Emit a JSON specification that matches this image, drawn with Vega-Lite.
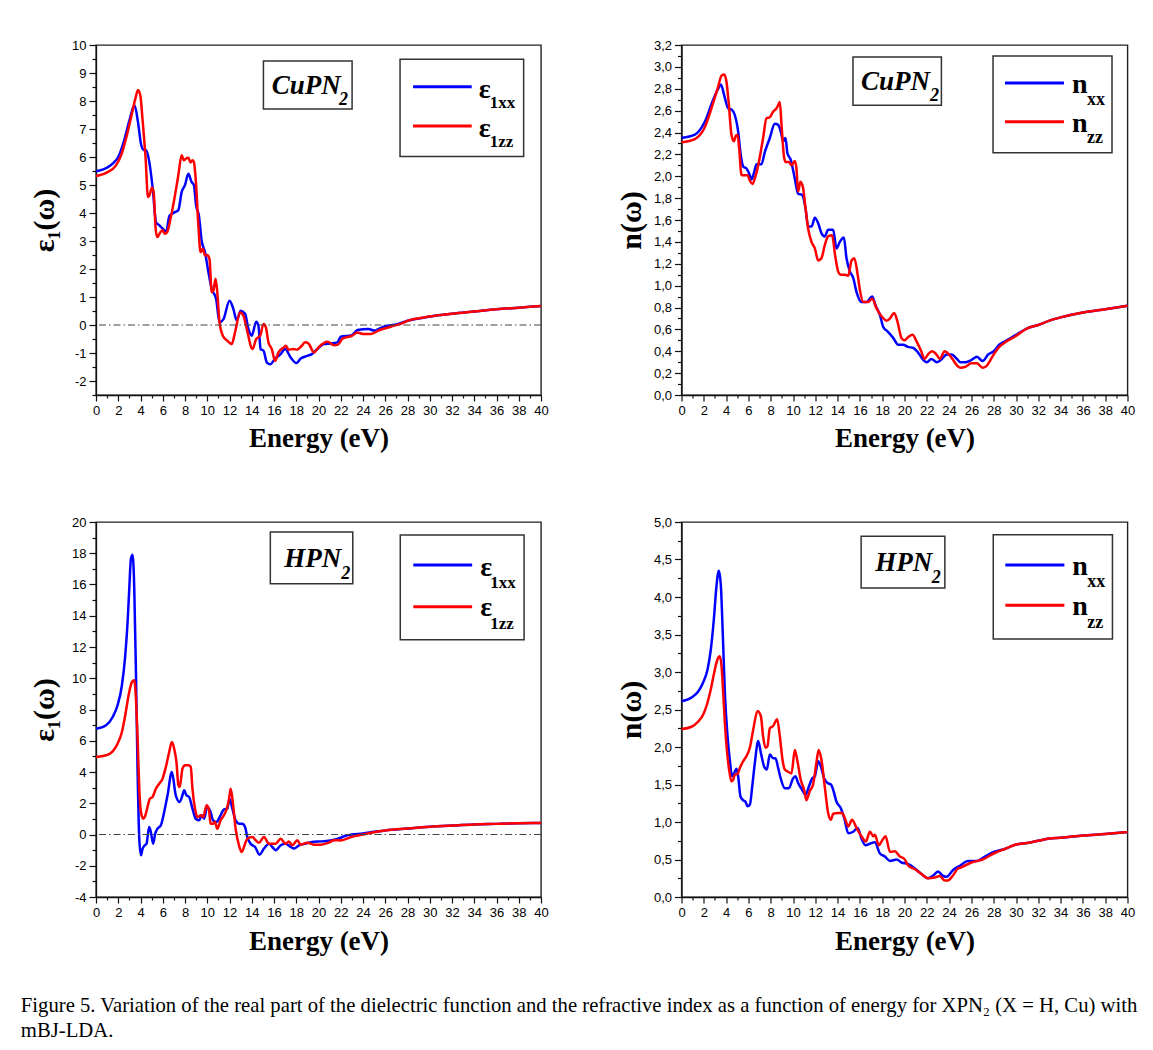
{
"$schema": "https://vega.github.io/schema/vega-lite/v6.json",
"background": "white",
"padding": {"left": 20, "top": 38, "right": 10, "bottom": 10},
"config": {
  "view": {"stroke": "#222", "strokeWidth": 1.4},
  "axis": {"grid": false, "labelFont": "Liberation Sans", "labelFontSize": 13, "labelColor": "black", "tickColor": "#111", "domainColor": "#111", "domainWidth": 1.3, "tickWidth": 1.2, "titleFont": "Liberation Serif", "titleFontWeight": "bold", "titleFontSize": 27, "titleColor": "black", "labelOverlap": false, "labelFlush": false, "labelPadding": 3}
},
"datasets": {
  "p1xx": [{"E":0,"v":5.49},{"E":1,"v":5.62},{"E":1.6,"v":5.8},{"E":2,"v":6.0},{"E":2.5,"v":6.55},{"E":3,"v":7.3},{"E":3.46,"v":7.85},{"E":3.77,"v":7.26},{"E":4.07,"v":6.42},{"E":4.3,"v":6.25},{"E":4.5,"v":6.24},{"E":4.8,"v":5.8},{"E":5.1,"v":4.87},{"E":5.4,"v":3.67},{"E":5.7,"v":3.56},{"E":6.0,"v":3.44},{"E":6.3,"v":3.32},{"E":6.6,"v":3.9},{"E":7.1,"v":4.03},{"E":7.4,"v":4.1},{"E":7.7,"v":4.75},{"E":8.0,"v":5.0},{"E":8.3,"v":5.4},{"E":8.6,"v":5.1},{"E":8.8,"v":5.0},{"E":9.0,"v":4.27},{"E":9.25,"v":3.9},{"E":9.5,"v":3.0},{"E":9.8,"v":2.6},{"E":10.1,"v":1.9},{"E":10.4,"v":1.3},{"E":10.8,"v":0.93},{"E":11.1,"v":0.1},{"E":11.45,"v":0.2},{"E":12.0,"v":0.87},{"E":12.35,"v":0.57},{"E":12.65,"v":0.16},{"E":13.0,"v":0.51},{"E":13.4,"v":0.4},{"E":13.7,"v":-0.14},{"E":14.0,"v":-0.38},{"E":14.4,"v":0.12},{"E":14.6,"v":-0.02},{"E":14.8,"v":-0.86},{"E":15.06,"v":-0.92},{"E":15.36,"v":-1.34},{"E":15.66,"v":-1.4},{"E":16.1,"v":-1.2},{"E":16.6,"v":-1.04},{"E":17.0,"v":-0.86},{"E":17.5,"v":-1.16},{"E":18.0,"v":-1.36},{"E":18.4,"v":-1.2},{"E":19.0,"v":-1.1},{"E":19.4,"v":-1.04},{"E":19.9,"v":-0.86},{"E":20.5,"v":-0.68},{"E":21.1,"v":-0.66},{"E":21.7,"v":-0.62},{"E":22,"v":-0.42},{"E":23,"v":-0.36},{"E":23.5,"v":-0.18},{"E":24.5,"v":-0.14},{"E":25,"v":-0.2},{"E":25.5,"v":-0.12},{"E":26,"v":-0.04},{"E":27,"v":0.02},{"E":28,"v":0.15},{"E":30,"v":0.3},{"E":32,"v":0.4},{"E":34,"v":0.48},{"E":36,"v":0.56},{"E":38,"v":0.62},{"E":40,"v":0.68}],
  "p1zz": [{"E":0,"v":5.32},{"E":1,"v":5.45},{"E":1.8,"v":5.7},{"E":2.3,"v":6.1},{"E":2.7,"v":6.66},{"E":3.16,"v":7.43},{"E":3.55,"v":8.1},{"E":3.77,"v":8.39},{"E":3.98,"v":8.21},{"E":4.2,"v":7.26},{"E":4.46,"v":5.94},{"E":4.67,"v":4.57},{"E":4.8,"v":4.63},{"E":5.03,"v":4.9},{"E":5.18,"v":4.75},{"E":5.36,"v":3.44},{"E":5.5,"v":3.14},{"E":5.8,"v":3.32},{"E":5.96,"v":3.38},{"E":6.2,"v":3.26},{"E":6.4,"v":3.32},{"E":6.7,"v":3.8},{"E":7.1,"v":4.63},{"E":7.4,"v":5.35},{"E":7.7,"v":6.06},{"E":7.9,"v":5.88},{"E":8.07,"v":5.94},{"E":8.3,"v":5.97},{"E":8.5,"v":5.8},{"E":8.67,"v":5.88},{"E":8.8,"v":5.82},{"E":9.0,"v":4.99},{"E":9.2,"v":3.56},{"E":9.4,"v":2.6},{"E":9.6,"v":2.72},{"E":9.8,"v":2.48},{"E":10.0,"v":2.5},{"E":10.2,"v":2.36},{"E":10.4,"v":1.17},{"E":10.55,"v":1.23},{"E":10.75,"v":1.65},{"E":10.9,"v":1.17},{"E":11.1,"v":0.1},{"E":11.4,"v":-0.38},{"E":11.8,"v":-0.56},{"E":12.2,"v":-0.68},{"E":12.5,"v":-0.26},{"E":12.95,"v":0.45},{"E":13.25,"v":0.33},{"E":13.55,"v":-0.14},{"E":14.07,"v":-0.86},{"E":14.4,"v":-0.5},{"E":14.76,"v":-0.38},{"E":15.06,"v":0.04},{"E":15.27,"v":-0.08},{"E":15.5,"v":-0.62},{"E":15.8,"v":-0.86},{"E":16.1,"v":-1.28},{"E":16.4,"v":-0.98},{"E":16.87,"v":-0.8},{"E":17.08,"v":-0.74},{"E":17.3,"v":-0.88},{"E":17.77,"v":-0.86},{"E":18.07,"v":-0.88},{"E":18.5,"v":-0.74},{"E":18.8,"v":-0.62},{"E":19.1,"v":-0.66},{"E":19.6,"v":-0.98},{"E":20.0,"v":-0.8},{"E":20.8,"v":-0.6},{"E":21.4,"v":-0.72},{"E":21.7,"v":-0.71},{"E":22.2,"v":-0.48},{"E":23,"v":-0.39},{"E":23.5,"v":-0.27},{"E":24,"v":-0.32},{"E":24.7,"v":-0.32},{"E":25.5,"v":-0.18},{"E":26.5,"v":-0.06},{"E":27.5,"v":0.06},{"E":28,"v":0.15},{"E":30,"v":0.3},{"E":32,"v":0.4},{"E":34,"v":0.48},{"E":36,"v":0.56},{"E":38,"v":0.62},{"E":40,"v":0.68}],
  "p2xx": [{"E":0,"v":2.35},{"E":1.2,"v":2.38},{"E":2.1,"v":2.5},{"E":2.84,"v":2.7},{"E":3.29,"v":2.8},{"E":3.53,"v":2.84},{"E":3.83,"v":2.74},{"E":4.19,"v":2.62},{"E":4.48,"v":2.61},{"E":4.78,"v":2.56},{"E":5.08,"v":2.41},{"E":5.32,"v":2.19},{"E":5.53,"v":2.09},{"E":5.83,"v":2.07},{"E":6.13,"v":2.01},{"E":6.28,"v":1.97},{"E":6.52,"v":2.04},{"E":6.73,"v":2.11},{"E":7.17,"v":2.11},{"E":7.47,"v":2.22},{"E":7.92,"v":2.35},{"E":8.37,"v":2.48},{"E":8.67,"v":2.47},{"E":8.9,"v":2.41},{"E":9.12,"v":2.32},{"E":9.33,"v":2.35},{"E":9.5,"v":2.21},{"E":9.8,"v":2.15},{"E":10.16,"v":1.98},{"E":10.46,"v":1.84},{"E":10.82,"v":1.83},{"E":11.12,"v":1.71},{"E":11.36,"v":1.54},{"E":11.66,"v":1.54},{"E":11.96,"v":1.62},{"E":12.26,"v":1.57},{"E":12.55,"v":1.48},{"E":12.85,"v":1.45},{"E":13.15,"v":1.51},{"E":13.6,"v":1.51},{"E":13.9,"v":1.34},{"E":14.2,"v":1.4},{"E":14.56,"v":1.44},{"E":14.8,"v":1.25},{"E":15.1,"v":1.13},{"E":15.4,"v":1.07},{"E":15.7,"v":0.94},{"E":16.14,"v":0.85},{"E":16.6,"v":0.85},{"E":17.1,"v":0.9},{"E":17.4,"v":0.82},{"E":17.8,"v":0.73},{"E":18.1,"v":0.62},{"E":18.5,"v":0.58},{"E":19.0,"v":0.52},{"E":19.43,"v":0.46},{"E":19.88,"v":0.46},{"E":20.3,"v":0.44},{"E":20.8,"v":0.43},{"E":21.2,"v":0.39},{"E":21.7,"v":0.32},{"E":22.0,"v":0.3},{"E":22.4,"v":0.33},{"E":22.9,"v":0.3},{"E":23.25,"v":0.32},{"E":23.8,"v":0.37},{"E":24.2,"v":0.37},{"E":24.7,"v":0.33},{"E":25.0,"v":0.3},{"E":25.5,"v":0.3},{"E":26,"v":0.32},{"E":26.5,"v":0.35},{"E":27,"v":0.31},{"E":27.5,"v":0.37},{"E":28,"v":0.4},{"E":28.5,"v":0.46},{"E":29,"v":0.49},{"E":30,"v":0.55},{"E":31,"v":0.61},{"E":32,"v":0.64},{"E":33,"v":0.68},{"E":34,"v":0.71},{"E":36,"v":0.755},{"E":38,"v":0.785},{"E":40,"v":0.815}],
  "p2zz": [{"E":0,"v":2.31},{"E":1.2,"v":2.34},{"E":2.1,"v":2.45},{"E":2.84,"v":2.67},{"E":3.29,"v":2.82},{"E":3.59,"v":2.92},{"E":3.83,"v":2.93},{"E":4.04,"v":2.86},{"E":4.25,"v":2.65},{"E":4.48,"v":2.38},{"E":4.7,"v":2.32},{"E":4.87,"v":2.37},{"E":5.02,"v":2.38},{"E":5.17,"v":2.26},{"E":5.38,"v":2.01},{"E":5.68,"v":2.01},{"E":5.92,"v":2.01},{"E":6.13,"v":1.96},{"E":6.37,"v":1.93},{"E":6.58,"v":1.98},{"E":6.88,"v":2.1},{"E":7.32,"v":2.35},{"E":7.62,"v":2.53},{"E":7.92,"v":2.54},{"E":8.22,"v":2.59},{"E":8.52,"v":2.62},{"E":8.67,"v":2.65},{"E":8.82,"v":2.68},{"E":8.97,"v":2.47},{"E":9.18,"v":2.19},{"E":9.33,"v":2.13},{"E":9.63,"v":2.13},{"E":9.87,"v":2.1},{"E":10.16,"v":2.14},{"E":10.31,"v":2.07},{"E":10.46,"v":1.86},{"E":10.67,"v":1.95},{"E":10.91,"v":1.89},{"E":11.12,"v":1.71},{"E":11.36,"v":1.52},{"E":11.66,"v":1.4},{"E":11.96,"v":1.34},{"E":12.26,"v":1.23},{"E":12.55,"v":1.25},{"E":12.85,"v":1.37},{"E":13.15,"v":1.45},{"E":13.5,"v":1.46},{"E":13.8,"v":1.26},{"E":14.05,"v":1.13},{"E":14.3,"v":1.1},{"E":14.65,"v":1.1},{"E":14.95,"v":1.09},{"E":15.25,"v":1.23},{"E":15.5,"v":1.25},{"E":15.8,"v":1.1},{"E":16.0,"v":0.96},{"E":16.3,"v":0.85},{"E":16.74,"v":0.85},{"E":17.1,"v":0.88},{"E":17.5,"v":0.79},{"E":17.94,"v":0.72},{"E":18.4,"v":0.68},{"E":18.7,"v":0.7},{"E":19.07,"v":0.75},{"E":19.37,"v":0.67},{"E":19.73,"v":0.52},{"E":20.0,"v":0.5},{"E":20.33,"v":0.53},{"E":20.72,"v":0.55},{"E":21.08,"v":0.49},{"E":21.5,"v":0.4},{"E":21.8,"v":0.33},{"E":22.1,"v":0.37},{"E":22.48,"v":0.4},{"E":22.87,"v":0.37},{"E":23.17,"v":0.33},{"E":23.6,"v":0.4},{"E":23.9,"v":0.38},{"E":24.36,"v":0.32},{"E":24.8,"v":0.26},{"E":25.0,"v":0.25},{"E":25.5,"v":0.26},{"E":26,"v":0.29},{"E":26.5,"v":0.29},{"E":27,"v":0.25},{"E":27.3,"v":0.26},{"E":28,"v":0.37},{"E":28.5,"v":0.44},{"E":29,"v":0.48},{"E":30,"v":0.54},{"E":31,"v":0.61},{"E":32,"v":0.64},{"E":33,"v":0.68},{"E":34,"v":0.71},{"E":36,"v":0.755},{"E":38,"v":0.785},{"E":40,"v":0.815}],
  "p3xx": [{"E":0,"v":6.77},{"E":0.9,"v":6.99},{"E":1.5,"v":7.52},{"E":1.94,"v":8.27},{"E":2.33,"v":9.55},{"E":2.63,"v":11.47},{"E":2.84,"v":13.6},{"E":2.99,"v":15.73},{"E":3.14,"v":17.65},{"E":3.29,"v":17.9},{"E":3.44,"v":15.73},{"E":3.59,"v":10.4},{"E":3.74,"v":4.0},{"E":3.89,"v":-0.27},{"E":4.04,"v":-1.33},{"E":4.19,"v":-0.9},{"E":4.4,"v":-0.69},{"E":4.54,"v":-0.59},{"E":4.78,"v":0.48},{"E":4.93,"v":0.16},{"E":5.14,"v":-0.59},{"E":5.32,"v":0.05},{"E":5.53,"v":0.37},{"E":5.83,"v":0.59},{"E":6.13,"v":1.44},{"E":6.43,"v":2.51},{"E":6.82,"v":4.0},{"E":7.17,"v":2.51},{"E":7.53,"v":2.08},{"E":7.77,"v":2.51},{"E":7.92,"v":2.83},{"E":8.13,"v":2.51},{"E":8.37,"v":2.4},{"E":8.67,"v":1.65},{"E":8.97,"v":1.01},{"E":9.27,"v":0.91},{"E":9.5,"v":1.23},{"E":9.72,"v":1.01},{"E":10.0,"v":1.76},{"E":10.3,"v":1.44},{"E":10.52,"v":0.91},{"E":10.82,"v":0.8},{"E":11.2,"v":1.23},{"E":11.5,"v":1.61},{"E":11.8,"v":1.65},{"E":12.0,"v":2.29},{"E":12.26,"v":1.65},{"E":12.55,"v":0.91},{"E":12.9,"v":0.69},{"E":13.15,"v":0.69},{"E":13.4,"v":0.48},{"E":13.6,"v":-0.16},{"E":13.9,"v":-0.59},{"E":14.3,"v":-0.8},{"E":14.7,"v":-1.29},{"E":15.1,"v":-0.9},{"E":15.55,"v":-0.59},{"E":15.85,"v":-0.8},{"E":16.14,"v":-1.01},{"E":16.6,"v":-0.69},{"E":17.04,"v":-0.59},{"E":17.5,"v":-0.8},{"E":17.8,"v":-0.9},{"E":18.24,"v":-0.69},{"E":18.8,"v":-0.59},{"E":19.4,"v":-0.48},{"E":20.3,"v":-0.44},{"E":21.2,"v":-0.37},{"E":22,"v":-0.21},{"E":22.5,"v":-0.06},{"E":23,"v":0.0},{"E":24,"v":0.06},{"E":25,"v":0.17},{"E":26,"v":0.26},{"E":28,"v":0.38},{"E":30,"v":0.49},{"E":32,"v":0.57},{"E":34,"v":0.64},{"E":36,"v":0.68},{"E":38,"v":0.72},{"E":40,"v":0.74}],
  "p3zz": [{"E":0,"v":4.96},{"E":0.9,"v":5.07},{"E":1.5,"v":5.32},{"E":1.94,"v":5.81},{"E":2.33,"v":6.56},{"E":2.63,"v":7.63},{"E":2.93,"v":8.91},{"E":3.23,"v":9.76},{"E":3.44,"v":9.87},{"E":3.59,"v":8.69},{"E":3.74,"v":6.13},{"E":3.89,"v":2.93},{"E":4.04,"v":1.44},{"E":4.25,"v":1.01},{"E":4.42,"v":1.18},{"E":4.63,"v":1.76},{"E":4.84,"v":2.29},{"E":5.08,"v":2.4},{"E":5.38,"v":2.93},{"E":5.68,"v":3.25},{"E":5.98,"v":3.57},{"E":6.28,"v":4.32},{"E":6.58,"v":5.28},{"E":6.82,"v":5.92},{"E":7.03,"v":5.49},{"E":7.23,"v":4.64},{"E":7.41,"v":3.15},{"E":7.53,"v":3.04},{"E":7.77,"v":4.21},{"E":8.01,"v":4.43},{"E":8.31,"v":4.43},{"E":8.52,"v":4.32},{"E":8.67,"v":2.93},{"E":8.9,"v":1.65},{"E":9.12,"v":1.12},{"E":9.42,"v":1.23},{"E":9.63,"v":1.12},{"E":9.95,"v":1.87},{"E":10.16,"v":1.55},{"E":10.3,"v":0.69},{"E":10.52,"v":0.69},{"E":10.7,"v":0.8},{"E":10.9,"v":0.37},{"E":11.2,"v":0.91},{"E":11.5,"v":1.23},{"E":11.8,"v":1.76},{"E":11.96,"v":2.29},{"E":12.1,"v":2.93},{"E":12.26,"v":2.29},{"E":12.55,"v":0.37},{"E":12.85,"v":-0.69},{"E":13.1,"v":-1.12},{"E":13.4,"v":-0.59},{"E":13.6,"v":-0.27},{"E":14.05,"v":-0.16},{"E":14.35,"v":-0.37},{"E":14.65,"v":-0.52},{"E":15.1,"v":-0.16},{"E":15.55,"v":-0.59},{"E":16.14,"v":-0.59},{"E":16.6,"v":-0.27},{"E":17.04,"v":-0.59},{"E":17.34,"v":-0.44},{"E":17.64,"v":-0.69},{"E":18.1,"v":-0.37},{"E":18.4,"v":-0.65},{"E":19.0,"v":-0.52},{"E":19.6,"v":-0.65},{"E":20.2,"v":-0.65},{"E":20.93,"v":-0.52},{"E":21.4,"v":-0.37},{"E":22,"v":-0.38},{"E":23,"v":-0.15},{"E":24,"v":0.0},{"E":25,"v":0.15},{"E":26,"v":0.26},{"E":28,"v":0.38},{"E":30,"v":0.49},{"E":32,"v":0.57},{"E":34,"v":0.64},{"E":36,"v":0.68},{"E":38,"v":0.72},{"E":40,"v":0.74}],
  "p4xx": [{"E":0,"v":2.61},{"E":0.9,"v":2.66},{"E":1.5,"v":2.74},{"E":1.94,"v":2.86},{"E":2.33,"v":3.03},{"E":2.63,"v":3.3},{"E":2.9,"v":3.7},{"E":3.14,"v":4.15},{"E":3.35,"v":4.35},{"E":3.53,"v":4.15},{"E":3.71,"v":3.48},{"E":3.89,"v":2.72},{"E":4.13,"v":2.14},{"E":4.33,"v":1.83},{"E":4.54,"v":1.61},{"E":4.78,"v":1.67},{"E":4.93,"v":1.71},{"E":5.08,"v":1.61},{"E":5.29,"v":1.34},{"E":5.53,"v":1.29},{"E":5.74,"v":1.27},{"E":5.92,"v":1.21},{"E":6.13,"v":1.23},{"E":6.34,"v":1.47},{"E":6.58,"v":1.79},{"E":6.88,"v":2.08},{"E":7.12,"v":1.92},{"E":7.41,"v":1.74},{"E":7.65,"v":1.7},{"E":7.92,"v":1.9},{"E":8.22,"v":1.85},{"E":8.43,"v":1.85},{"E":8.67,"v":1.72},{"E":8.9,"v":1.58},{"E":9.27,"v":1.45},{"E":9.63,"v":1.45},{"E":10.0,"v":1.58},{"E":10.22,"v":1.61},{"E":10.46,"v":1.52},{"E":10.82,"v":1.43},{"E":11.12,"v":1.36},{"E":11.42,"v":1.47},{"E":11.72,"v":1.58},{"E":11.96,"v":1.61},{"E":12.26,"v":1.81},{"E":12.5,"v":1.74},{"E":12.8,"v":1.58},{"E":13.1,"v":1.52},{"E":13.4,"v":1.5},{"E":13.6,"v":1.43},{"E":13.9,"v":1.27},{"E":14.3,"v":1.18},{"E":14.6,"v":1.05},{"E":14.95,"v":0.85},{"E":15.4,"v":0.87},{"E":15.8,"v":0.92},{"E":16.14,"v":0.78},{"E":16.5,"v":0.69},{"E":16.9,"v":0.71},{"E":17.34,"v":0.73},{"E":17.8,"v":0.58},{"E":18.24,"v":0.54},{"E":18.7,"v":0.48},{"E":19.3,"v":0.5},{"E":19.73,"v":0.46},{"E":20.3,"v":0.44},{"E":20.93,"v":0.38},{"E":21.5,"v":0.31},{"E":22.1,"v":0.25},{"E":22.6,"v":0.29},{"E":23.0,"v":0.34},{"E":23.47,"v":0.28},{"E":23.77,"v":0.27},{"E":24.36,"v":0.36},{"E":25.0,"v":0.42},{"E":25.7,"v":0.48},{"E":26.5,"v":0.48},{"E":27,"v":0.52},{"E":28,"v":0.6},{"E":29,"v":0.64},{"E":30,"v":0.7},{"E":31,"v":0.72},{"E":32,"v":0.75},{"E":33,"v":0.78},{"E":34,"v":0.79},{"E":36,"v":0.82},{"E":38,"v":0.84},{"E":40,"v":0.865}],
  "p4zz": [{"E":0,"v":2.24},{"E":0.9,"v":2.27},{"E":1.5,"v":2.34},{"E":1.94,"v":2.43},{"E":2.33,"v":2.59},{"E":2.63,"v":2.77},{"E":2.93,"v":2.99},{"E":3.23,"v":3.17},{"E":3.44,"v":3.21},{"E":3.59,"v":3.08},{"E":3.74,"v":2.72},{"E":3.89,"v":2.32},{"E":4.04,"v":2.01},{"E":4.25,"v":1.72},{"E":4.48,"v":1.54},{"E":4.63,"v":1.56},{"E":4.78,"v":1.63},{"E":5.02,"v":1.64},{"E":5.23,"v":1.72},{"E":5.53,"v":1.81},{"E":5.83,"v":1.88},{"E":6.13,"v":1.99},{"E":6.43,"v":2.23},{"E":6.82,"v":2.48},{"E":7.12,"v":2.41},{"E":7.32,"v":2.14},{"E":7.53,"v":1.99},{"E":7.71,"v":2.01},{"E":7.92,"v":2.25},{"E":8.22,"v":2.28},{"E":8.58,"v":2.37},{"E":8.82,"v":2.14},{"E":9.06,"v":1.83},{"E":9.27,"v":1.7},{"E":9.57,"v":1.67},{"E":9.87,"v":1.65},{"E":10.16,"v":1.96},{"E":10.4,"v":1.81},{"E":10.7,"v":1.56},{"E":11.0,"v":1.43},{"E":11.2,"v":1.29},{"E":11.5,"v":1.41},{"E":11.8,"v":1.5},{"E":12.1,"v":1.79},{"E":12.3,"v":1.96},{"E":12.55,"v":1.83},{"E":12.85,"v":1.47},{"E":13.15,"v":1.12},{"E":13.4,"v":1.03},{"E":13.6,"v":1.11},{"E":14.05,"v":1.12},{"E":14.4,"v":1.12},{"E":14.7,"v":1.03},{"E":14.95,"v":0.94},{"E":15.3,"v":1.03},{"E":15.7,"v":0.92},{"E":16.14,"v":0.81},{"E":16.53,"v":0.74},{"E":16.9,"v":0.87},{"E":17.2,"v":0.81},{"E":17.34,"v":0.83},{"E":17.7,"v":0.69},{"E":17.94,"v":0.74},{"E":18.3,"v":0.81},{"E":18.7,"v":0.6},{"E":19.13,"v":0.61},{"E":19.58,"v":0.54},{"E":19.97,"v":0.51},{"E":20.33,"v":0.42},{"E":20.93,"v":0.37},{"E":21.5,"v":0.31},{"E":22.1,"v":0.25},{"E":22.7,"v":0.26},{"E":23.17,"v":0.28},{"E":23.6,"v":0.22},{"E":23.9,"v":0.22},{"E":24.36,"v":0.29},{"E":24.8,"v":0.38},{"E":25,"v":0.39},{"E":26,"v":0.46},{"E":27,"v":0.5},{"E":28,"v":0.58},{"E":29,"v":0.64},{"E":30,"v":0.7},{"E":31,"v":0.72},{"E":32,"v":0.75},{"E":33,"v":0.78},{"E":34,"v":0.79},{"E":36,"v":0.82},{"E":38,"v":0.84},{"E":40,"v":0.865}]
},
"title": {"text": ["Figure 5. Variation of the real part of the dielectric function and the refractive index as a function of energy for XPN₂ (X = H, Cu) with", "mBJ-LDA."], "orient": "bottom", "anchor": "start", "font": "Liberation Serif", "fontSize": 20.7, "fontWeight": "normal", "color": "black", "offset": 41, "dx": -8, "lineHeight": 25},
"columns": 2,
"bounds": "flush",
"align": "each",
"spacing": {"row": 127, "column": 140.5},
"concat": [
  {"width": 445, "height": 350, "resolve": {"axis": {"x": "independent", "y": "independent"}}, "layer": [
   {"data": {"name": "p1xx"}, "mark": {"type": "line", "color": "#0000ff", "strokeWidth": 2.5, "interpolate": "monotone"},
    "encoding": {
     "x": {"field": "E", "type": "quantitative", "scale": {"domain": [0, 40], "nice": false, "zero": false},
      "axis": {"title": "Energy (eV)", "orient": "bottom", "values": [0,2,4,6,8,10,12,14,16,18,20,22,24,26,28,30,32,34,36,38,40], "tickSize": 6, "titlePadding": 8}},
     "y": {"field": "v", "type": "quantitative", "scale": {"domain": [-2.5, 10], "nice": false, "zero": false},
      "axis": {"title": "ε₁(ω)", "titleFontSize": 30, "orient": "left", "values": [-2,-1,0,1,2,3,4,5,6,7,8,9,10], "labelExpr": "'' + datum.value", "tickSize": 7, "titlePadding": 12}}}},
   {"data": {"name": "p1zz"}, "mark": {"type": "line", "color": "#ff0000", "strokeWidth": 2.5, "interpolate": "monotone"},
    "encoding": {"x": {"field": "E", "type": "quantitative", "axis": {"orient": "bottom", "values": [1,3,5,7,9,11,13,15,17,19,21,23,25,27,29,31,33,35,37,39], "tickSize": 3, "labels": false, "domain": false, "title": null}},
     "y": {"field": "v", "type": "quantitative", "axis": {"orient": "left", "values": [-2.5,-1.5,-0.5,0.5,1.5,2.5,3.5,4.5,5.5,6.5,7.5,8.5,9.5], "tickSize": 4, "labels": false, "domain": false, "title": null}}}},
   {"data": {"values": [{}]}, "mark": {"type": "rule", "color": "#444", "strokeWidth": 1, "strokeDash": [7, 3, 1.5, 3]},
    "encoding": {"y": {"datum": 0, "type": "quantitative", "axis": null}}},
   {"data": {"values": [{}]}, "mark": {"type": "rect", "fill": "white", "stroke": "#333", "strokeWidth": 1.5},
    "encoding": {"x": {"datum": 15.05, "type": "quantitative", "axis": null}, "x2": {"datum": 23.02}, "y": {"datum": 9.43, "type": "quantitative", "axis": null}, "y2": {"datum": 7.71}}},
   {"data": {"values": [{}]}, "mark": {"type": "text", "text": "CuPN", "font": "Liberation Serif", "fontWeight": "bold", "fontStyle": "italic", "fontSize": 27, "align": "left", "baseline": "alphabetic", "color": "black"},
    "encoding": {"x": {"datum": 15.8, "type": "quantitative", "axis": null}, "y": {"datum": 8.245, "type": "quantitative", "axis": null}}},
   {"data": {"values": [{}]}, "mark": {"type": "text", "text": "2", "font": "Liberation Serif", "fontWeight": "bold", "fontStyle": "italic", "fontSize": 18, "align": "left", "baseline": "alphabetic", "color": "black"},
    "encoding": {"x": {"datum": 21.85, "type": "quantitative", "axis": null}, "y": {"datum": 7.85, "type": "quantitative", "axis": null}}},
   {"data": {"values": [{}]}, "mark": {"type": "rect", "fill": "white", "stroke": "#333", "strokeWidth": 1.5},
    "encoding": {"x": {"datum": 27.33, "type": "quantitative", "axis": null}, "x2": {"datum": 38.44}, "y": {"datum": 9.49, "type": "quantitative", "axis": null}, "y2": {"datum": 6.02}}},
   {"data": {"values": [{}]}, "mark": {"type": "rule", "color": "#0000ff", "strokeWidth": 3},
    "encoding": {"x": {"datum": 28.5, "type": "quantitative", "axis": null}, "x2": {"datum": 33.77}, "y": {"datum": 8.51, "type": "quantitative", "axis": null}}},
   {"data": {"values": [{}]}, "mark": {"type": "rule", "color": "#ff0000", "strokeWidth": 3},
    "encoding": {"x": {"datum": 28.5, "type": "quantitative", "axis": null}, "x2": {"datum": 33.77}, "y": {"datum": 7.11, "type": "quantitative", "axis": null}}},
   {"data": {"values": [{}]}, "mark": {"type": "text", "text": "ε", "font": "Liberation Serif", "fontWeight": "bold", "fontSize": 28, "align": "left", "baseline": "alphabetic", "color": "black"},
    "encoding": {"x": {"datum": 34.4, "type": "quantitative", "axis": null}, "y": {"datum": 8.09, "type": "quantitative", "axis": null}}},
   {"data": {"values": [{}]}, "mark": {"type": "text", "text": "1xx", "font": "Liberation Serif", "fontWeight": "bold", "fontSize": 17, "align": "left", "baseline": "alphabetic", "color": "black"},
    "encoding": {"x": {"datum": 35.4, "type": "quantitative", "axis": null}, "y": {"datum": 7.74, "type": "quantitative", "axis": null}}},
   {"data": {"values": [{}]}, "mark": {"type": "text", "text": "ε", "font": "Liberation Serif", "fontWeight": "bold", "fontSize": 28, "align": "left", "baseline": "alphabetic", "color": "black"},
    "encoding": {"x": {"datum": 34.4, "type": "quantitative", "axis": null}, "y": {"datum": 6.7, "type": "quantitative", "axis": null}}},
   {"data": {"values": [{}]}, "mark": {"type": "text", "text": "1zz", "font": "Liberation Serif", "fontWeight": "bold", "fontSize": 17, "align": "left", "baseline": "alphabetic", "color": "black"},
    "encoding": {"x": {"datum": 35.4, "type": "quantitative", "axis": null}, "y": {"datum": 6.35, "type": "quantitative", "axis": null}}}
  ]},
  {"width": 446, "height": 350, "resolve": {"axis": {"x": "independent", "y": "independent"}}, "layer": [
   {"data": {"name": "p2xx"}, "mark": {"type": "line", "color": "#0000ff", "strokeWidth": 2.5, "interpolate": "monotone"},
    "encoding": {
     "x": {"field": "E", "type": "quantitative", "scale": {"domain": [0, 40], "nice": false, "zero": false},
      "axis": {"title": "Energy (eV)", "orient": "bottom", "values": [0,2,4,6,8,10,12,14,16,18,20,22,24,26,28,30,32,34,36,38,40], "tickSize": 6, "titlePadding": 8}},
     "y": {"field": "v", "type": "quantitative", "scale": {"domain": [0, 3.2], "nice": false, "zero": false},
      "axis": {"title": "n(ω)", "titleFontSize": 30, "orient": "left", "values": [0,0.2,0.4,0.6,0.8,1,1.2,1.4,1.6,1.8,2,2.2,2.4,2.6,2.8,3,3.2], "labelExpr": "replace(format(datum.value, '.1f'), '.', ',')", "tickSize": 7, "titlePadding": 7}}}},
   {"data": {"name": "p2zz"}, "mark": {"type": "line", "color": "#ff0000", "strokeWidth": 2.5, "interpolate": "monotone"},
    "encoding": {"x": {"field": "E", "type": "quantitative", "axis": {"orient": "bottom", "values": [1,3,5,7,9,11,13,15,17,19,21,23,25,27,29,31,33,35,37,39], "tickSize": 3, "labels": false, "domain": false, "title": null}},
     "y": {"field": "v", "type": "quantitative", "axis": {"orient": "left", "values": [0.1,0.3,0.5,0.7,0.9,1.1,1.3,1.5,1.7,1.9,2.1,2.3,2.5,2.7,2.9,3.1], "tickSize": 4, "labels": false, "domain": false, "title": null}}}},
   {"data": {"values": [{}]}, "mark": {"type": "rect", "fill": "white", "stroke": "#333", "strokeWidth": 1.5},
    "encoding": {"x": {"datum": 15.38, "type": "quantitative", "axis": null}, "x2": {"datum": 23.31}, "y": {"datum": 3.09, "type": "quantitative", "axis": null}, "y2": {"datum": 2.65}}},
   {"data": {"values": [{}]}, "mark": {"type": "text", "text": "CuPN", "font": "Liberation Serif", "fontWeight": "bold", "fontStyle": "italic", "fontSize": 27, "align": "left", "baseline": "alphabetic", "color": "black"},
    "encoding": {"x": {"datum": 16.1, "type": "quantitative", "axis": null}, "y": {"datum": 2.789, "type": "quantitative", "axis": null}}},
   {"data": {"values": [{}]}, "mark": {"type": "text", "text": "2", "font": "Liberation Serif", "fontWeight": "bold", "fontStyle": "italic", "fontSize": 18, "align": "left", "baseline": "alphabetic", "color": "black"},
    "encoding": {"x": {"datum": 22.29, "type": "quantitative", "axis": null}, "y": {"datum": 2.69, "type": "quantitative", "axis": null}}},
   {"data": {"values": [{}]}, "mark": {"type": "rect", "fill": "white", "stroke": "#333", "strokeWidth": 1.5},
    "encoding": {"x": {"datum": 27.94, "type": "quantitative", "axis": null}, "x2": {"datum": 38.61}, "y": {"datum": 3.1, "type": "quantitative", "axis": null}, "y2": {"datum": 2.215}}},
   {"data": {"values": [{}]}, "mark": {"type": "rule", "color": "#0000ff", "strokeWidth": 3},
    "encoding": {"x": {"datum": 29.01, "type": "quantitative", "axis": null}, "x2": {"datum": 34.3}, "y": {"datum": 2.853, "type": "quantitative", "axis": null}}},
   {"data": {"values": [{}]}, "mark": {"type": "rule", "color": "#ff0000", "strokeWidth": 3},
    "encoding": {"x": {"datum": 29.01, "type": "quantitative", "axis": null}, "x2": {"datum": 34.3}, "y": {"datum": 2.499, "type": "quantitative", "axis": null}}},
   {"data": {"values": [{}]}, "mark": {"type": "text", "text": "n", "font": "Liberation Serif", "fontWeight": "bold", "fontSize": 28, "align": "left", "baseline": "alphabetic", "color": "black"},
    "encoding": {"x": {"datum": 35.02, "type": "quantitative", "axis": null}, "y": {"datum": 2.761, "type": "quantitative", "axis": null}}},
   {"data": {"values": [{}]}, "mark": {"type": "text", "text": "xx", "font": "Liberation Serif", "fontWeight": "bold", "fontSize": 18, "align": "left", "baseline": "alphabetic", "color": "black"},
    "encoding": {"x": {"datum": 36.37, "type": "quantitative", "axis": null}, "y": {"datum": 2.652, "type": "quantitative", "axis": null}}},
   {"data": {"values": [{}]}, "mark": {"type": "text", "text": "n", "font": "Liberation Serif", "fontWeight": "bold", "fontSize": 28, "align": "left", "baseline": "alphabetic", "color": "black"},
    "encoding": {"x": {"datum": 35.02, "type": "quantitative", "axis": null}, "y": {"datum": 2.407, "type": "quantitative", "axis": null}}},
   {"data": {"values": [{}]}, "mark": {"type": "text", "text": "zz", "font": "Liberation Serif", "fontWeight": "bold", "fontSize": 18, "align": "left", "baseline": "alphabetic", "color": "black"},
    "encoding": {"x": {"datum": 36.37, "type": "quantitative", "axis": null}, "y": {"datum": 2.304, "type": "quantitative", "axis": null}}}
  ]},
  {"width": 445, "height": 375, "resolve": {"axis": {"x": "independent", "y": "independent"}}, "layer": [
   {"data": {"name": "p3xx"}, "mark": {"type": "line", "color": "#0000ff", "strokeWidth": 2.5, "interpolate": "monotone"},
    "encoding": {
     "x": {"field": "E", "type": "quantitative", "scale": {"domain": [0, 40], "nice": false, "zero": false},
      "axis": {"title": "Energy (eV)", "orient": "bottom", "values": [0,2,4,6,8,10,12,14,16,18,20,22,24,26,28,30,32,34,36,38,40], "tickSize": 6, "titlePadding": 9}},
     "y": {"field": "v", "type": "quantitative", "scale": {"domain": [-4, 20], "nice": false, "zero": false},
      "axis": {"title": "ε₁(ω)", "titleFontSize": 30, "orient": "left", "values": [-4,-2,0,2,4,6,8,10,12,14,16,18,20], "labelExpr": "'' + datum.value", "tickSize": 7, "titlePadding": 12}}}},
   {"data": {"name": "p3zz"}, "mark": {"type": "line", "color": "#ff0000", "strokeWidth": 2.5, "interpolate": "monotone"},
    "encoding": {"x": {"field": "E", "type": "quantitative", "axis": {"orient": "bottom", "values": [1,3,5,7,9,11,13,15,17,19,21,23,25,27,29,31,33,35,37,39], "tickSize": 3, "labels": false, "domain": false, "title": null}},
     "y": {"field": "v", "type": "quantitative", "axis": {"orient": "left", "values": [-3,-1,1,3,5,7,9,11,13,15,17,19], "tickSize": 4, "labels": false, "domain": false, "title": null}}}},
   {"data": {"values": [{}]}, "mark": {"type": "rule", "color": "#444", "strokeWidth": 1, "strokeDash": [7, 3, 1.5, 3]},
    "encoding": {"y": {"datum": 0, "type": "quantitative", "axis": null}}},
   {"data": {"values": [{}]}, "mark": {"type": "rect", "fill": "white", "stroke": "#333", "strokeWidth": 1.5},
    "encoding": {"x": {"datum": 15.67, "type": "quantitative", "axis": null}, "x2": {"datum": 23.08}, "y": {"datum": 19.36, "type": "quantitative", "axis": null}, "y2": {"datum": 16.05}}},
   {"data": {"values": [{}]}, "mark": {"type": "text", "text": "HPN", "font": "Liberation Serif", "fontWeight": "bold", "fontStyle": "italic", "fontSize": 27, "align": "left", "baseline": "alphabetic", "color": "black"},
    "encoding": {"x": {"datum": 16.92, "type": "quantitative", "axis": null}, "y": {"datum": 17.12, "type": "quantitative", "axis": null}}},
   {"data": {"values": [{}]}, "mark": {"type": "text", "text": "2", "font": "Liberation Serif", "fontWeight": "bold", "fontStyle": "italic", "fontSize": 18, "align": "left", "baseline": "alphabetic", "color": "black"},
    "encoding": {"x": {"datum": 22.04, "type": "quantitative", "axis": null}, "y": {"datum": 16.35, "type": "quantitative", "axis": null}}},
   {"data": {"values": [{}]}, "mark": {"type": "rect", "fill": "white", "stroke": "#333", "strokeWidth": 1.5},
    "encoding": {"x": {"datum": 27.35, "type": "quantitative", "axis": null}, "x2": {"datum": 38.48}, "y": {"datum": 19.17, "type": "quantitative", "axis": null}, "y2": {"datum": 12.47}}},
   {"data": {"values": [{}]}, "mark": {"type": "rule", "color": "#0000ff", "strokeWidth": 3},
    "encoding": {"x": {"datum": 28.52, "type": "quantitative", "axis": null}, "x2": {"datum": 33.81}, "y": {"datum": 17.25, "type": "quantitative", "axis": null}}},
   {"data": {"values": [{}]}, "mark": {"type": "rule", "color": "#ff0000", "strokeWidth": 3},
    "encoding": {"x": {"datum": 28.52, "type": "quantitative", "axis": null}, "x2": {"datum": 33.81}, "y": {"datum": 14.58, "type": "quantitative", "axis": null}}},
   {"data": {"values": [{}]}, "mark": {"type": "text", "text": "ε", "font": "Liberation Serif", "fontWeight": "bold", "fontSize": 28, "align": "left", "baseline": "alphabetic", "color": "black"},
    "encoding": {"x": {"datum": 34.53, "type": "quantitative", "axis": null}, "y": {"datum": 16.54, "type": "quantitative", "axis": null}}},
   {"data": {"values": [{}]}, "mark": {"type": "text", "text": "1xx", "font": "Liberation Serif", "fontWeight": "bold", "fontSize": 17, "align": "left", "baseline": "alphabetic", "color": "black"},
    "encoding": {"x": {"datum": 35.43, "type": "quantitative", "axis": null}, "y": {"datum": 15.78, "type": "quantitative", "axis": null}}},
   {"data": {"values": [{}]}, "mark": {"type": "text", "text": "ε", "font": "Liberation Serif", "fontWeight": "bold", "fontSize": 28, "align": "left", "baseline": "alphabetic", "color": "black"},
    "encoding": {"x": {"datum": 34.53, "type": "quantitative", "axis": null}, "y": {"datum": 13.98, "type": "quantitative", "axis": null}}},
   {"data": {"values": [{}]}, "mark": {"type": "text", "text": "1zz", "font": "Liberation Serif", "fontWeight": "bold", "fontSize": 17, "align": "left", "baseline": "alphabetic", "color": "black"},
    "encoding": {"x": {"datum": 35.43, "type": "quantitative", "axis": null}, "y": {"datum": 13.15, "type": "quantitative", "axis": null}}}
  ]},
  {"width": 446, "height": 375, "resolve": {"axis": {"x": "independent", "y": "independent"}}, "layer": [
   {"data": {"name": "p4xx"}, "mark": {"type": "line", "color": "#0000ff", "strokeWidth": 2.5, "interpolate": "monotone"},
    "encoding": {
     "x": {"field": "E", "type": "quantitative", "scale": {"domain": [0, 40], "nice": false, "zero": false},
      "axis": {"title": "Energy (eV)", "orient": "bottom", "values": [0,2,4,6,8,10,12,14,16,18,20,22,24,26,28,30,32,34,36,38,40], "tickSize": 6, "titlePadding": 9}},
     "y": {"field": "v", "type": "quantitative", "scale": {"domain": [0, 5], "nice": false, "zero": false},
      "axis": {"title": "n(ω)", "titleFontSize": 30, "orient": "left", "values": [0,0.5,1,1.5,2,2.5,3,3.5,4,4.5,5], "labelExpr": "replace(format(datum.value, '.1f'), '.', ',')", "tickSize": 7, "titlePadding": 7}}}},
   {"data": {"name": "p4zz"}, "mark": {"type": "line", "color": "#ff0000", "strokeWidth": 2.5, "interpolate": "monotone"},
    "encoding": {"x": {"field": "E", "type": "quantitative", "axis": {"orient": "bottom", "values": [1,3,5,7,9,11,13,15,17,19,21,23,25,27,29,31,33,35,37,39], "tickSize": 3, "labels": false, "domain": false, "title": null}},
     "y": {"field": "v", "type": "quantitative", "axis": {"orient": "left", "values": [0.25,0.75,1.25,1.75,2.25,2.75,3.25,3.75,4.25,4.75], "tickSize": 4, "labels": false, "domain": false, "title": null}}}},
   {"data": {"values": [{}]}, "mark": {"type": "rect", "fill": "white", "stroke": "#333", "strokeWidth": 1.5},
    "encoding": {"x": {"datum": 16.11, "type": "quantitative", "axis": null}, "x2": {"datum": 23.62}, "y": {"datum": 4.81, "type": "quantitative", "axis": null}, "y2": {"datum": 4.12}}},
   {"data": {"values": [{}]}, "mark": {"type": "text", "text": "HPN", "font": "Liberation Serif", "fontWeight": "bold", "fontStyle": "italic", "fontSize": 27, "align": "left", "baseline": "alphabetic", "color": "black"},
    "encoding": {"x": {"datum": 17.37, "type": "quantitative", "axis": null}, "y": {"datum": 4.344, "type": "quantitative", "axis": null}}},
   {"data": {"values": [{}]}, "mark": {"type": "text", "text": "2", "font": "Liberation Serif", "fontWeight": "bold", "fontStyle": "italic", "fontSize": 18, "align": "left", "baseline": "alphabetic", "color": "black"},
    "encoding": {"x": {"datum": 22.45, "type": "quantitative", "axis": null}, "y": {"datum": 4.183, "type": "quantitative", "axis": null}}},
   {"data": {"values": [{}]}, "mark": {"type": "rect", "fill": "white", "stroke": "#333", "strokeWidth": 1.5},
    "encoding": {"x": {"datum": 27.96, "type": "quantitative", "axis": null}, "x2": {"datum": 38.65}, "y": {"datum": 4.83, "type": "quantitative", "axis": null}, "y2": {"datum": 3.44}}},
   {"data": {"values": [{}]}, "mark": {"type": "rule", "color": "#0000ff", "strokeWidth": 3},
    "encoding": {"x": {"datum": 29.04, "type": "quantitative", "axis": null}, "x2": {"datum": 34.34}, "y": {"datum": 4.428, "type": "quantitative", "axis": null}}},
   {"data": {"values": [{}]}, "mark": {"type": "rule", "color": "#ff0000", "strokeWidth": 3},
    "encoding": {"x": {"datum": 29.04, "type": "quantitative", "axis": null}, "x2": {"datum": 34.34}, "y": {"datum": 3.889, "type": "quantitative", "axis": null}}},
   {"data": {"values": [{}]}, "mark": {"type": "text", "text": "n", "font": "Liberation Serif", "fontWeight": "bold", "fontSize": 28, "align": "left", "baseline": "alphabetic", "color": "black"},
    "encoding": {"x": {"datum": 35.05, "type": "quantitative", "axis": null}, "y": {"datum": 4.29, "type": "quantitative", "axis": null}}},
   {"data": {"values": [{}]}, "mark": {"type": "text", "text": "xx", "font": "Liberation Serif", "fontWeight": "bold", "fontSize": 18, "align": "left", "baseline": "alphabetic", "color": "black"},
    "encoding": {"x": {"datum": 36.4, "type": "quantitative", "axis": null}, "y": {"datum": 4.13, "type": "quantitative", "axis": null}}},
   {"data": {"values": [{}]}, "mark": {"type": "text", "text": "n", "font": "Liberation Serif", "fontWeight": "bold", "fontSize": 28, "align": "left", "baseline": "alphabetic", "color": "black"},
    "encoding": {"x": {"datum": 35.05, "type": "quantitative", "axis": null}, "y": {"datum": 3.755, "type": "quantitative", "axis": null}}},
   {"data": {"values": [{}]}, "mark": {"type": "text", "text": "zz", "font": "Liberation Serif", "fontWeight": "bold", "fontSize": 18, "align": "left", "baseline": "alphabetic", "color": "black"},
    "encoding": {"x": {"datum": 36.4, "type": "quantitative", "axis": null}, "y": {"datum": 3.585, "type": "quantitative", "axis": null}}}
  ]}
]
}
